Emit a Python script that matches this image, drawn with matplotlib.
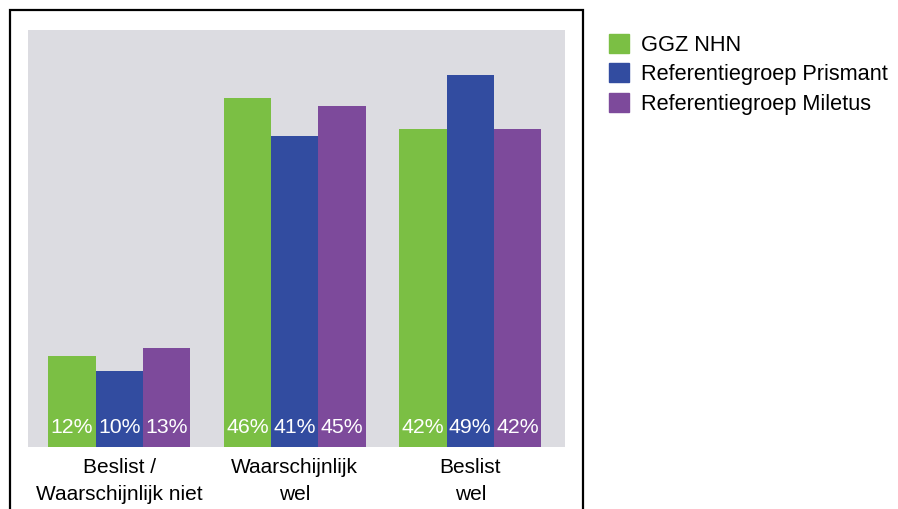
"""
Grouped bar chart: GGZ NHN versus reference groups.
"""
import matplotlib
matplotlib.use("Agg")
import matplotlib.pyplot as plt
from matplotlib.patches import Rectangle, Patch
import numpy as np

categories = ["Beslist /\nWaarschijnlijk niet", "Waarschijnlijk\nwel", "Beslist\nwel"]
series_names = ["GGZ NHN", "Referentiegroep Prismant", "Referentiegroep Miletus"]
ggz_nhn = [12, 46, 42]
prismant = [10, 41, 49]
miletus = [13, 45, 42]
colors = ["#7bbf44", "#324ca0", "#7d4a9b"]

plt.rcParams["font.family"] = ["Liberation Sans Narrow", "Liberation Sans", "DejaVu Sans"]

fig = plt.figure(figsize=(8.98, 5.09), dpi=100)
W, H = 898, 509

# outer frame around the plot area
fig.patches.append(Rectangle((10 / W, -0.1), (583 - 10) / W, 1.1 - 10 / H,
                             transform=fig.transFigure, fill=False,
                             edgecolor="black", linewidth=1.6))

ax = fig.add_axes([28 / W, 1 - 447 / H, 537 / W, 417 / H])
ax.set_facecolor("#dcdce1")
for s in ax.spines.values():
    s.set_visible(False)

x = np.arange(len(categories))
width = 0.27
for i, (vals, name) in enumerate(zip([ggz_nhn, prismant, miletus], series_names)):
    pos = x + (i - 1) * width
    ax.bar(pos, vals, width, color=colors[i], label=name, zorder=2)
    for p, v in zip(pos, vals):
        ax.text(p, 2.6, f"{v}%", ha="center", va="center", color="white",
                fontsize=15.3, zorder=3)

ax.set_xlim(-0.52, 2.54)
ax.set_ylim(0, 55)
ax.set_yticks([])
ax.set_xticks(x)
ax.set_xticklabels(categories, fontsize=15, linespacing=1.55)
ax.tick_params(axis="x", length=0, pad=8)

handles = [Patch(color=c, label=n) for c, n in zip(colors, series_names)]
fig.legend(handles=handles, loc="upper left", bbox_to_anchor=(600 / W, 1 - 25 / H),
           frameon=False, fontsize=15.7, handlelength=0.95, handleheight=0.95,
           handletextpad=0.55, labelspacing=0.35, borderaxespad=0)

fig.savefig("out.png", dpi=100)
